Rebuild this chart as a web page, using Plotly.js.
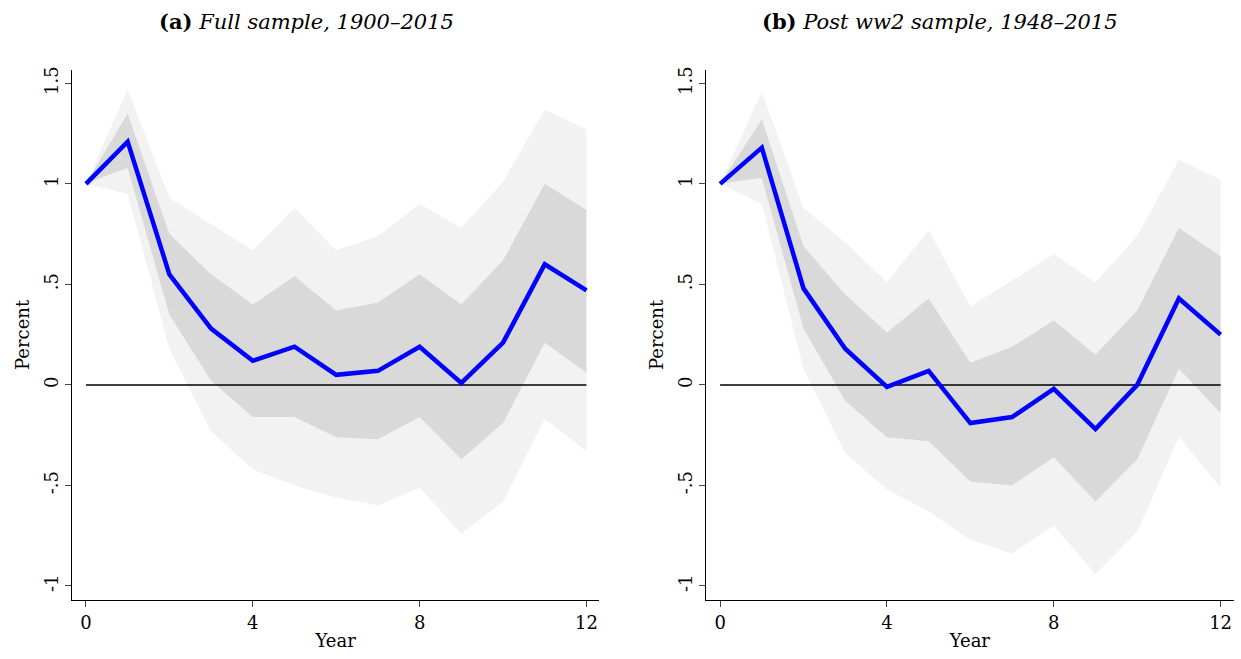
<!DOCTYPE html>
<html>
<head>
<meta charset="utf-8">
<script src="https://cdn.plot.ly/plotly-3.0.1.min.js"></script>
<style>body{margin:0;background:#fff}#chart{width:1241px;height:659px}</style>
</head>
<body>
<div id="chart"></div>
<script>
let years = [0,1,2,3,4,5,6,7,8,9,10,11,12];

// panel (a): full sample
let fullIrf     = [1, 1.21, 0.55, 0.28, 0.12, 0.19, 0.05, 0.07, 0.19, 0.01, 0.21, 0.60, 0.47];
let fullHi68    = [1, 1.35, 0.75, 0.55, 0.40, 0.54, 0.37, 0.41, 0.55, 0.40, 0.62, 1.00, 0.87];
let fullLo68    = [1, 1.08, 0.35, 0.02, -0.16, -0.16, -0.26, -0.27, -0.16, -0.37, -0.19, 0.21, 0.06];
let fullHi90    = [1, 1.47, 0.93, 0.80, 0.67, 0.88, 0.67, 0.74, 0.90, 0.78, 1.01, 1.37, 1.27];
let fullLo90    = [1, 0.95, 0.18, -0.23, -0.42, -0.50, -0.56, -0.60, -0.51, -0.74, -0.58, -0.17, -0.33];

// panel (b): post ww2 sample
let postIrf     = [1, 1.18, 0.48, 0.18, -0.01, 0.07, -0.19, -0.16, -0.02, -0.22, 0.00, 0.43, 0.25];
let postHi68    = [1, 1.32, 0.69, 0.45, 0.26, 0.43, 0.11, 0.19, 0.32, 0.15, 0.37, 0.78, 0.64];
let postLo68    = [1, 1.03, 0.28, -0.08, -0.26, -0.28, -0.48, -0.50, -0.36, -0.58, -0.37, 0.08, -0.14];
let postHi90    = [1, 1.46, 0.88, 0.71, 0.51, 0.77, 0.39, 0.52, 0.65, 0.51, 0.74, 1.12, 1.02];
let postLo90    = [1, 0.90, 0.08, -0.34, -0.52, -0.63, -0.77, -0.84, -0.70, -0.94, -0.73, -0.26, -0.51];

let yTickVals = [-1, -0.5, 0, 0.5, 1, 1.5];
let yTickText = ['-1', '-.5', '0', '.5', '1', '1.5'];
let xTickVals = [0, 4, 8, 12];

function band(hi, lo, color, ax){
    return {x: years.concat(years.slice().reverse()), y: hi.concat(lo.slice().reverse()),
        fill: 'toself', fillcolor: color, line: {width: 0}, mode: 'lines',
        hoverinfo: 'skip', showlegend: false, xaxis: 'x'+ax, yaxis: 'y'+ax};
}
function zero(ax){
    return {x: [0, 12], y: [0, 0], mode: 'lines', line: {color: 'black', width: 1.5},
        showlegend: false, xaxis: 'x'+ax, yaxis: 'y'+ax};
}
function irf(y, ax){
    return {x: years, y: y, mode: 'lines', line: {color: 'rgb(0,0,255)', width: 4.5},
        showlegend: false, xaxis: 'x'+ax, yaxis: 'y'+ax};
}

let data = [
    band(fullHi90, fullLo90, 'rgb(242,242,242)', ''), band(fullHi68, fullLo68, 'rgb(217,217,217)', ''),
    zero(''), irf(fullIrf, ''),
    band(postHi90, postLo90, 'rgb(242,242,242)', '2'), band(postHi68, postLo68, 'rgb(217,217,217)', '2'),
    zero('2'), irf(postIrf, '2')
];

let font = {family: 'DejaVu Serif', size: 18, color: 'black'};
function xax(dom){
    return {domain: dom, range: [-0.335, 12.31], tickvals: xTickVals, ticks: 'outside', ticklen: 6,
        showline: true, linecolor: 'black', showgrid: false, zeroline: false,
        title: {text: 'Year', font: font, standoff: 2}, tickfont: font};
}
function yax(anchor){
    return {domain: [0.0895, 0.894], range: [-1.07, 1.567], tickvals: yTickVals, ticktext: yTickText,
        tickangle: -90, ticks: 'outside', ticklen: 6, showline: true, linecolor: 'black',
        showgrid: false, zeroline: false, anchor: anchor,
        title: {text: 'Percent', font: font, standoff: 6}, tickfont: font};
}

let layout = {
    width: 1241, height: 659, margin: {l: 0, r: 0, t: 0, b: 0},
    paper_bgcolor: 'white', plot_bgcolor: 'white', font: font,
    xaxis: xax([0.058, 0.483]), yaxis: yax('x'),
    xaxis2: Object.assign(xax([0.569, 0.994]), {anchor: 'y2'}), yaxis2: yax('x2'),
    annotations: [
        {text: '<b>(a)</b> <i>Full sample, 1900–2015</i>', x: 0.2466, y: 0.967, xref: 'paper', yref: 'paper',
         xanchor: 'center', yanchor: 'middle', showarrow: false, font: {family: 'DejaVu Serif', size: 21}},
        {text: '<b>(b)</b> <i>Post ww2 sample, 1948–2015</i>', x: 0.7575, y: 0.967, xref: 'paper', yref: 'paper',
         xanchor: 'center', yanchor: 'middle', showarrow: false, font: {family: 'DejaVu Serif', size: 21}}
    ]
};

Plotly.newPlot('chart', data, layout, {displayModeBar: false});
</script>
</body>
</html>
